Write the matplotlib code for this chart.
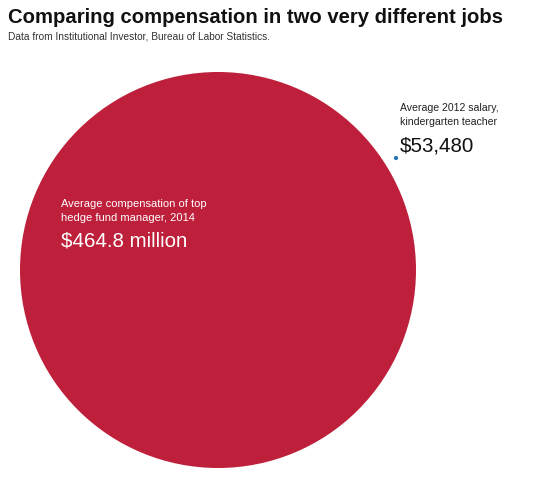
import numpy as np
import matplotlib
matplotlib.use("Agg")
import matplotlib.pyplot as plt
from matplotlib.patches import Circle
from matplotlib import font_manager

# data
labels = ["Average compensation of top\nhedge fund manager, 2014",
          "Average 2012 salary,\nkindergarten teacher"]
values = [464.8e6, 53480]
value_text = ["$464.8 million", "$53,480"]
colors = ["#BE1F3B", "#2576B5"]
title = "Comparing compensation in two very different jobs"
subtitle = "Data from Institutional Investor, Bureau of Labor Statistics."

W, H = 533, 478
fig = plt.figure(figsize=(W / 100, H / 100), dpi=100)
fig.patch.set_facecolor("white")
ax = fig.add_axes([0, 0, 1, 1])
ax.set_xlim(0, W)
ax.set_ylim(H, 0)
ax.set_aspect("equal")
ax.axis("off")

# area-proportional circles (radius ~ sqrt(value))
big_r = 198.0
scale = big_r / np.sqrt(max(values))
radii = [scale * np.sqrt(v) for v in values]
centers = [(218, 270), (396, 158)]

for (cx, cy), r, c in zip(centers, radii, colors):
    ax.add_patch(Circle((cx, cy), r, facecolor=c, edgecolor="none"))

# title: pick a condensed face if there is one, then fit to the width
names = {f.name for f in font_manager.fontManager.ttflist}
title_family = "DejaVu Sans Condensed" if "DejaVu Sans Condensed" in names else "Liberation Sans"
t = ax.text(8, 23, title, fontsize=15, fontweight="bold", color="#111111",
            family=title_family, va="baseline", ha="left")
fig.canvas.draw()
w = t.get_window_extent().width
t.set_fontsize(15 * 498 / w)

ax.text(8, 39, subtitle, fontsize=7.3, color="#333333", family="Liberation Sans",
        va="baseline", ha="left")

# annotations
ax.text(61, 221, labels[0], fontsize=8.0, color="white",
        family="Liberation Sans", va="baseline", ha="left", linespacing=1.5)
ax.text(61, 246, value_text[0], fontsize=14.8, color="white",
        family="Liberation Sans", va="baseline", ha="left")

ax.text(400, 125, labels[1], fontsize=7.6, color="#222222",
        family="Liberation Sans", va="baseline", ha="left", linespacing=1.55)
ax.text(400, 151, value_text[1], fontsize=14.8, color="#111111",
        family="Liberation Sans", va="baseline", ha="left")

fig.savefig("out.png", dpi=100, facecolor="white")
